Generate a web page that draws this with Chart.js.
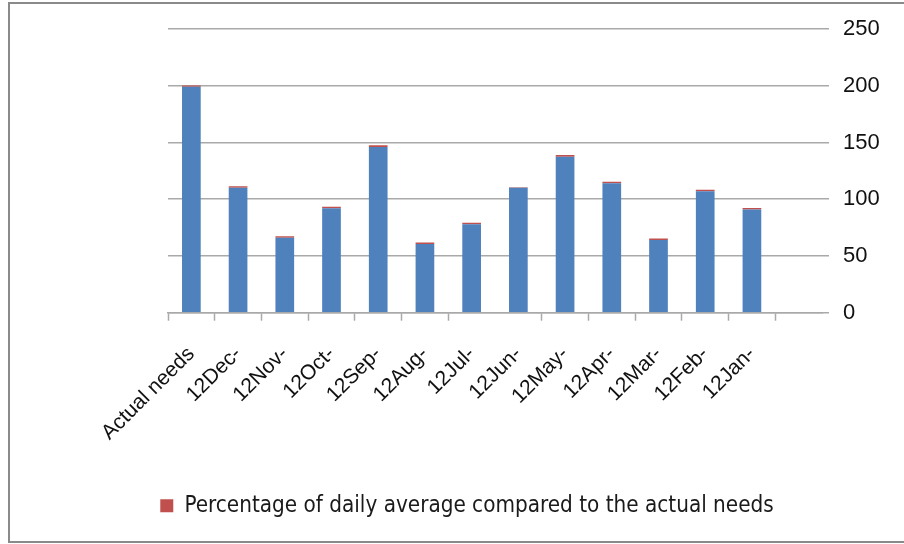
<!DOCTYPE html>
<html>
<head>
<meta charset="utf-8">
<script src="https://cdn.jsdelivr.net/npm/chart.js@4.4.1/dist/chart.umd.min.js"></script>
<style>
  html, body { margin: 0; padding: 0; background: #ffffff; }
  #wrap { width: 904px; height: 544px; position: relative; }
</style>
</head>
<body>
<div id="wrap"><canvas id="c" width="904" height="544"></canvas></div>
<script>
// Categories along the horizontal axis (last slot is left empty)
const categories = ['Actual needs', '12Dec-', '12Nov-', '12Oct-', '12Sep-', '12Aug-', '12Jul-',
                    '12Jun-', '12May-', '12Apr-', '12Mar-', '12Feb-', '12Jan-', ''];

// Base amounts (blue)
const baseValues = [199, 110, 66, 92, 146, 60.5, 78, 110, 137.5, 114, 64, 107, 91, null];

// Percentage of daily average compared to the actual needs (red, stacked on top)
const percentValues = [1.2, 1.4, 1.4, 1.4, 1.5, 1.3, 1.3, 0.5, 1.4, 1.4, 1.3, 1.4, 1.3, null];

// Value axis ticks
const yTicks = [0, 50, 100, 150, 200, 250];

const legendLabel = 'Percentage of daily average compared to the actual needs';

const GRID = '#a9a9a9';

// Outer frame around the chart
const framePlugin = {
  id: 'frame',
  beforeDraw(chart) {
    const ctx = chart.ctx;
    ctx.save();
    ctx.fillStyle = '#ffffff';
    ctx.fillRect(0, 0, chart.width, chart.height);
    ctx.strokeStyle = '#8a8a8a';
    ctx.lineWidth = 2;
    ctx.strokeRect(9, 3, chart.width + 10, 539);
    ctx.restore();
  }
};

new Chart(document.getElementById('c'), {
  type: 'bar',
  data: {
    labels: categories,
    datasets: [
      {
        label: '',
        data: baseValues,
        yAxisID: 'y',
        xAxisID: 'x',
        backgroundColor: '#4f81bd',
        borderWidth: 0,
        barPercentage: 0.4,
        categoryPercentage: 1.0
      },
      {
        label: legendLabel,
        data: percentValues,
        yAxisID: 'y',
        xAxisID: 'x',
        backgroundColor: '#c0504d',
        borderWidth: 0,
        barPercentage: 0.4,
        categoryPercentage: 1.0
      }
    ]
  },
  options: {
    responsive: false,
    animation: false,
    layout: { padding: { top: 29, left: 30, right: 0, bottom: 17 } },
    plugins: {
      legend: {
        position: 'bottom',
        labels: {
          filter: (item) => item.datasetIndex === 1,
          boxWidth: 13,
          boxHeight: 13,
          padding: 10,
          color: '#1a1a1a',
          font: { family: "'Liberation Sans Narrow', 'DejaVu Sans Condensed', 'Liberation Sans', sans-serif", size: 22.3 }
        }
      },
      tooltip: { enabled: false }
    },
    scales: {
      x: {
        stacked: true,
        offset: true,
        grid: {
          offset: true,
          drawOnChartArea: false,
          drawTicks: true,
          tickLength: 8,
          tickColor: (ctx) => (ctx.index === 7 || ctx.index === undefined) ? 'rgba(0,0,0,0)' : GRID,
          tickWidth: 1.5
        },
        border: { display: true, color: GRID, width: 1.5 },
        ticks: {
          minRotation: 45,
          maxRotation: 45,
          autoSkip: false,
          padding: 21,
          color: '#111111',
          font: { family: "'Liberation Sans', Arial, sans-serif", size: 21 }
        },
        afterFit(scale) { scale.height = 172; }
      },
      // empty spacer on the left so the plot starts further right than the legend
      spacer: {
        type: 'linear',
        position: 'left',
        min: 0,
        max: 1,
        display: true,
        grid: { display: false, drawTicks: false },
        border: { display: false },
        ticks: { display: false },
        afterFit(scale) { scale.width = 138; }
      },
      y: {
        stacked: true,
        position: 'right',
        min: 0,
        max: 250,
        afterBuildTicks(scale) { scale.ticks = yTicks.map(v => ({ value: v })); },
        grid: {
          color: GRID,
          lineWidth: 1.5,
          drawTicks: true,
          tickLength: 7,
          tickColor: GRID
        },
        border: { display: false },
        ticks: {
          padding: 14,
          color: '#111111',
          font: { family: "'Liberation Sans', Arial, sans-serif", size: 22 }
        },
        afterFit(scale) { scale.width = 82; }
      }
    }
  },
  plugins: [framePlugin]
});
</script>
</body>
</html>
